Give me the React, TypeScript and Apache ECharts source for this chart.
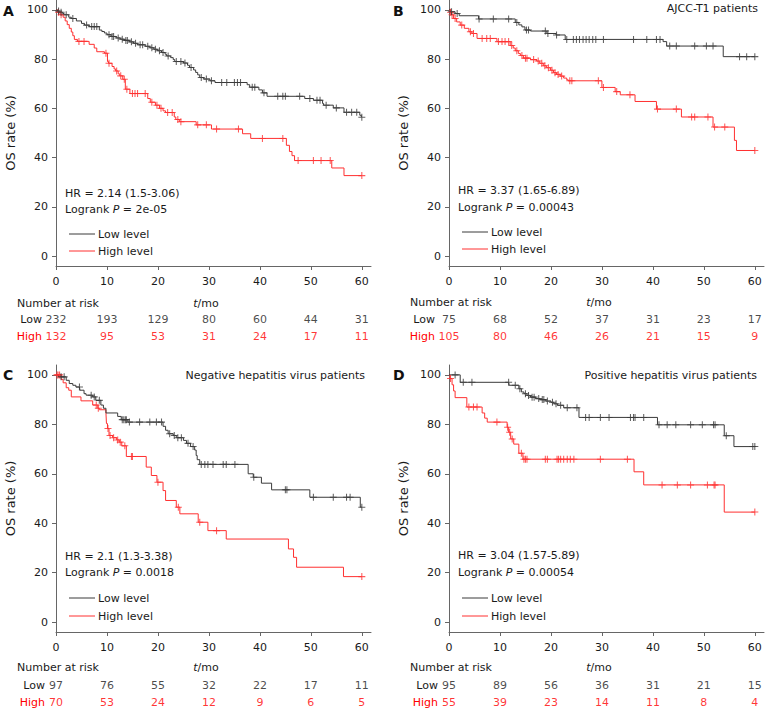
import React, { useEffect, useRef } from "react";
import * as echarts from "echarts";

// ---------- shared tick values ----------
const timeTicks = [0, 10, 20, 30, 40, 50, 60];
const survTicks = [0, 20, 40, 60, 80, 100];

// ---------- KM observations: [time (mo), survival (%), censored (1) / event (0)] ----------
const aLow = [
  [0, 100, 0], [0.3, 99.5, 0], [0.5, 99.5, 1], [0.8, 99, 0], [1, 99, 1], [1.3, 98.5, 0], [1.6, 98, 0], [2, 98, 1],
  [2.5, 97, 0], [3, 96.5, 0], [3.3, 96.5, 1], [4, 95.5, 0], [5, 94.5, 0], [5.6, 93.8, 0], [6, 93.8, 1], [6.5, 93.2, 0],
  [7, 93.2, 1], [7.5, 93.2, 1], [8, 93.2, 1], [8.5, 91.8, 0], [9, 91.2, 0], [9.5, 90.6, 0], [10, 89.9, 0], [10.4, 89.9, 1],
  [10.8, 89.2, 0], [11, 89.2, 1], [11.3, 89.2, 1], [11.8, 88.6, 0], [12.2, 88.6, 1], [12.6, 88.1, 0], [13, 88.1, 1],
  [13.4, 87.6, 0], [13.7, 87.6, 1], [14, 87.6, 1], [14.4, 87, 0], [14.8, 87, 1], [15.2, 86.4, 0], [15.6, 86.4, 1],
  [16, 85.8, 0], [16.5, 85.8, 1], [17, 85.8, 1], [17.5, 85.2, 0], [18, 85.2, 1], [18.4, 84.6, 0], [18.8, 84.6, 1],
  [19.2, 84, 0], [19.5, 84, 1], [19.9, 83.4, 0], [20.3, 83.4, 1], [20.7, 82.7, 0], [21, 82.7, 1], [21.4, 82, 0],
  [21.7, 81.3, 0], [22, 81.3, 1], [22.5, 80.6, 0], [23, 79.8, 0], [23.3, 79, 0], [23.6, 79, 1], [24.5, 79, 1],
  [25, 78.4, 0], [25.3, 78.4, 1], [25.8, 77.5, 0], [26.2, 76.6, 0], [26.5, 76.6, 1], [27, 75.6, 0], [27.4, 74.6, 0],
  [27.8, 73.6, 0], [28.2, 72.5, 0], [28.5, 72.5, 1], [29, 71.9, 0], [29.5, 71.9, 1], [30.2, 71.2, 0], [30.5, 71.2, 1],
  [31.2, 70.5, 0], [32.5, 70.5, 1], [33.5, 70.5, 1], [35, 70.5, 1], [35.6, 70.5, 1], [36.2, 70.5, 1], [37.5, 69.6, 0],
  [38, 68.6, 0], [38.5, 68.6, 1], [39, 68.6, 1], [39.8, 67.5, 0], [40.5, 66.3, 0], [40.8, 66.3, 1], [41.4, 64.9, 0],
  [43.5, 64.9, 1], [44.5, 64.9, 1], [45, 64.9, 1], [47.8, 64.9, 1], [48.8, 64, 0], [49.8, 64, 1], [50.5, 63.3, 0],
  [51.2, 63.3, 1], [51.8, 63.3, 1], [52.3, 62, 0], [52.5, 61.3, 0], [53, 61.3, 1], [54.4, 60.2, 0], [55, 60.2, 1],
  [56.5, 58.4, 0], [57, 58.4, 1], [58, 58.4, 1], [59, 58.4, 1], [59.6, 57.2, 0], [59.9, 56.4, 0], [60, 56.4, 1],
];
const aHigh = [
  [0, 100, 0], [0.3, 99, 0], [0.5, 99, 1], [0.8, 98, 0], [1, 98, 1], [1.4, 97, 0], [1.8, 95.5, 0], [2.2, 94, 0],
  [2.6, 92.5, 0], [3, 91, 0], [3.3, 89.5, 0], [3.6, 88, 0], [4.2, 87.2, 0], [4.5, 87.2, 1], [5.5, 87.2, 1],
  [6.5, 86, 0], [7.5, 84.5, 0], [8, 83, 0], [9.5, 82.4, 0], [9.8, 82.4, 1], [10.1, 79, 0], [10.3, 78.3, 0],
  [10.4, 78.3, 1], [11, 77, 0], [11.4, 76, 0], [11.7, 75.2, 0], [11.9, 75.2, 1], [12.2, 74, 0], [12.5, 73.2, 0],
  [12.7, 73.2, 1], [13.1, 71.8, 0], [13.4, 71.8, 1], [13.6, 67.8, 0], [13.9, 67.8, 1], [14.5, 66, 0], [15, 66, 1],
  [15.5, 66, 1], [16, 66, 1], [17.5, 66, 1], [18, 64, 0], [18.5, 62.5, 0], [18.8, 62.5, 1], [19.5, 61.3, 0],
  [19.8, 61.3, 1], [20.3, 60, 0], [20.6, 60, 1], [21, 59, 0], [21.5, 58.3, 0], [21.9, 58.3, 1], [22.8, 58.3, 1],
  [23.2, 56.5, 0], [23.5, 55.5, 0], [23.9, 55.5, 1], [24.2, 54.6, 0], [24.5, 54.6, 1], [27.5, 53.3, 0],
  [27.8, 53.3, 1], [29.5, 53.3, 1], [30.5, 51.6, 0], [31.5, 51.6, 1], [35.8, 51.6, 1], [36.6, 49.7, 0],
  [38.2, 47.8, 0], [40.5, 47.8, 1], [44.5, 47.8, 1], [45.2, 45, 0], [45.8, 42.5, 0], [46.3, 40.8, 0],
  [46.8, 38.8, 0], [47.5, 38.8, 1], [50.5, 38.8, 1], [52, 38.8, 1], [53.8, 38.8, 1], [54.1, 35.8, 0],
  [56.5, 32.7, 0], [60, 32.7, 1],
];
const bLow = [
  [0, 100, 0], [0.3, 99.2, 0], [0.5, 99.2, 1], [1.2, 98.5, 0], [1.6, 98.5, 1], [2, 97.6, 0], [5.8, 96.3, 0],
  [5.9, 96.3, 1], [8.7, 96.3, 1], [11.7, 96.3, 1], [13, 94.9, 0], [13.3, 94.9, 1], [13.7, 93.9, 0], [14.3, 93.1, 0],
  [14.9, 91.8, 0], [15.2, 91.8, 1], [15.6, 91.8, 1], [16, 91.4, 0], [18.9, 91.4, 1], [19.2, 90.4, 0], [19.4, 90.4, 1],
  [21, 89.8, 0], [21.1, 89.8, 1], [22.8, 88, 0], [23.1, 88, 1], [24.4, 88, 1], [25, 88, 1], [25.6, 88, 1],
  [26.3, 88, 1], [26.9, 88, 1], [27.5, 88, 1], [28.2, 88, 1], [28.8, 88, 1], [30.3, 88, 1], [36.2, 88, 1],
  [38.8, 88, 1], [40.7, 88, 1], [41.4, 88, 1], [42, 87.1, 0], [42.7, 85.3, 0], [43.3, 85.3, 1], [44.6, 85.3, 1],
  [48.2, 85.3, 1], [50.5, 85.3, 1], [51.8, 85.3, 1], [53.8, 81, 0], [57, 81, 1], [58.4, 81, 1], [60, 81, 1],
];
const bHigh = [
  [0, 100, 0], [0.2, 99, 0], [0.3, 99, 1], [0.5, 98, 0], [0.6, 98, 1], [0.9, 96.5, 0], [1.2, 96.5, 1],
  [1.5, 95.1, 0], [2.2, 93.8, 0], [2.5, 93.8, 1], [3, 92.5, 0], [3.9, 91.1, 0], [4.2, 91.1, 1], [4.5, 90.4, 0],
  [4.8, 90.4, 1], [5.5, 88.4, 0], [6.5, 88.4, 1], [7.4, 88.4, 1], [8.1, 88.4, 1], [9.4, 87.1, 0], [9.7, 87.1, 1],
  [10.4, 87.1, 1], [11, 87.1, 1], [11.7, 87.1, 1], [12, 85.5, 0], [12.3, 85.5, 1], [12.6, 84.5, 0], [13, 83.4, 0],
  [13.3, 83.4, 1], [13.6, 82.3, 0], [14, 81.5, 0], [14.3, 81.5, 1], [14.6, 80.4, 0], [15, 80.4, 1], [15.3, 80.4, 1],
  [16, 79.8, 0], [16.6, 79.8, 1], [17.2, 79.2, 0], [17.5, 79.2, 1], [17.8, 78.3, 0], [18.2, 78.3, 1], [18.5, 77.3, 0],
  [18.8, 77.3, 1], [19.1, 76.5, 0], [19.5, 76.5, 1], [19.9, 75.5, 0], [20.2, 75.5, 1], [20.5, 74.5, 0],
  [20.8, 74.5, 1], [21.1, 73.8, 0], [21.4, 73.8, 1], [21.8, 73.1, 0], [22.1, 73.1, 1], [22.5, 72.3, 0],
  [23.1, 71.6, 0], [23.4, 71.2, 0], [23.7, 71.2, 1], [24.1, 71.2, 1], [29.3, 71.2, 1], [30, 68.5, 0],
  [30.3, 68.5, 1], [32.6, 66.8, 0], [32.9, 66.8, 1], [33.6, 65.5, 0], [35.5, 65.5, 1], [36.5, 62.8, 0],
  [40.7, 59.7, 0], [40.9, 59.7, 1], [44.6, 59.7, 1], [45.6, 56.5, 0], [47.6, 56.5, 1], [48.2, 56.5, 1],
  [50.8, 56.5, 1], [51.8, 52.4, 0], [52.1, 52.4, 1], [54.1, 52.4, 1], [56, 47, 0], [56.4, 42.9, 0], [60, 42.9, 1],
];
const cLow = [
  [0, 100, 0], [0.5, 99.2, 0], [1, 99.2, 1], [1.6, 99.2, 1], [2, 97.8, 0], [2.6, 96.5, 0], [3.3, 95.8, 0],
  [3.9, 95.1, 0], [4.6, 95.1, 1], [4.7, 93.8, 0], [5.5, 92.4, 0], [5.9, 91.8, 0], [6.9, 91.8, 1], [7.2, 91.1, 0],
  [7.5, 91.1, 1], [7.8, 89.7, 0], [8.5, 89.7, 1], [8.8, 87.8, 0], [9.3, 86.5, 0], [9.8, 84.6, 0], [12.1, 83.2, 0],
  [12.8, 81.9, 0], [13, 81.9, 1], [13.3, 81.9, 1], [13.6, 81.9, 1], [13.8, 81.9, 1], [14.1, 80.9, 0], [14.4, 80.9, 1],
  [16.4, 80.9, 1], [18.4, 80.9, 1], [19.7, 80.9, 1], [20.7, 80.9, 1], [21, 79.2, 0], [21.5, 77.6, 0], [22, 76.2, 0],
  [22.3, 76.2, 1], [23, 75.5, 0], [23.2, 75.5, 1], [23.6, 74.6, 0], [23.9, 74.6, 1], [24.6, 74.6, 1], [25, 73.5, 0],
  [25.6, 72.3, 0], [25.9, 72.3, 1], [26.4, 71, 0], [26.9, 71, 1], [27.2, 69.6, 0], [27.5, 67.4, 0], [27.7, 65.7, 0],
  [28.2, 63.8, 0], [28.5, 63.8, 1], [29.2, 63.8, 1], [29.8, 63.8, 1], [30.8, 63.8, 1], [32.8, 63.8, 1],
  [33.4, 63.8, 1], [35.1, 63.8, 1], [37.7, 60, 0], [38.7, 58.6, 0], [38.8, 58.6, 1], [40.3, 56.2, 0],
  [42.3, 53.5, 0], [45, 53.5, 1], [45.3, 53.5, 1], [49.8, 50.5, 0], [50.5, 50.5, 1], [54.4, 50.5, 1],
  [57, 50.5, 1], [57.7, 50.5, 1], [59.7, 46.5, 0], [60, 46.5, 1],
];
const cHigh = [
  [0, 100, 0], [0.2, 100, 1], [0.4, 100, 1], [0.7, 100, 1], [1, 98.2, 0], [1.4, 96.8, 0], [2, 94.8, 0],
  [2.5, 93.8, 0], [3, 91.1, 0], [4.9, 89.5, 0], [7.2, 87.8, 0], [7.9, 87.8, 1], [8.2, 86.5, 0], [8.3, 86.5, 1],
  [8.5, 85.9, 0], [9.8, 84.6, 0], [9.9, 80.3, 0], [10.1, 78.3, 0], [10.2, 78.3, 1], [10.4, 75.5, 0], [10.6, 75.5, 1],
  [11.1, 74.6, 0], [11.3, 74.6, 1], [11.9, 73.7, 0], [12.1, 73.7, 1], [12.4, 72.8, 0], [12.6, 72.8, 1],
  [12.9, 71.3, 0], [13.5, 71.3, 1], [13.8, 67, 0], [14.8, 67, 1], [15, 67, 1], [17.7, 62.7, 0], [18.7, 59.3, 0],
  [19.8, 56.6, 0], [20, 56.6, 1], [21, 53.2, 0], [21.5, 49.2, 0], [23.6, 46.5, 0], [24, 46.5, 1], [24.3, 43.8, 0],
  [27.9, 40.4, 0], [28.2, 40.4, 1], [29.8, 37, 0], [31.5, 37, 1], [33.4, 33.6, 0], [45.6, 29.6, 0],
  [46.6, 26.2, 0], [47.2, 22.2, 0], [56.4, 18.4, 0], [60, 18.4, 1],
];
const dLow = [
  [0, 100, 0], [1.2, 100, 1], [2.2, 97, 0], [2.8, 97, 1], [4.5, 97, 1], [11.7, 97, 1], [11.8, 95.8, 0],
  [13, 95.8, 1], [13.7, 94.4, 0], [13.9, 94.4, 1], [14.2, 93.1, 0], [14.7, 92.4, 0], [15, 92.4, 1], [15.3, 91.7, 0],
  [15.6, 91.7, 1], [16, 91, 0], [16.3, 91, 1], [16.7, 91, 1], [17, 90.4, 0], [17.6, 90.4, 1], [17.9, 90, 0],
  [18.3, 90, 1], [18.6, 90, 1], [19, 89.4, 0], [19.3, 89.4, 1], [20, 88.9, 0], [20.3, 88.9, 1], [20.6, 88.3, 0],
  [21, 88.3, 1], [21.3, 87.7, 0], [21.9, 87.7, 1], [22.5, 86.7, 0], [23.2, 86.7, 1], [25.1, 86.7, 1],
  [25.5, 82.8, 0], [26.8, 82.8, 1], [27.5, 82.8, 1], [29.7, 82.8, 1], [31.4, 82.8, 1], [35.6, 82.8, 1],
  [36.2, 82.8, 1], [36.5, 82.8, 1], [38.2, 82.8, 1], [40.9, 79.8, 0], [41.2, 79.8, 1], [42.8, 79.8, 1],
  [44.5, 79.8, 1], [47.4, 79.8, 1], [49.7, 79.8, 1], [51.9, 79.8, 1], [52.2, 79.8, 1], [54, 75.4, 0],
  [54.4, 75.4, 1], [55.9, 71, 0], [59.6, 71, 1], [60, 71, 1],
];
const dHigh = [
  [0, 100, 0], [0.2, 98.5, 0], [0.3, 98.5, 1], [0.6, 96, 0], [0.9, 93.5, 0], [1.2, 90.8, 0], [3.5, 87, 0],
  [3.9, 87, 1], [4.8, 87, 1], [5.5, 87, 1], [6.5, 84.6, 0], [7, 82.5, 0], [7.5, 80.9, 0], [9.4, 80.9, 1],
  [11.4, 78.8, 0], [11.5, 78.8, 1], [11.7, 76.8, 0], [11.9, 76.8, 1], [12.1, 74.1, 0], [12.4, 74.1, 1],
  [12.7, 72, 0], [13.7, 68.3, 0], [14.2, 68.3, 1], [14.5, 65.9, 0], [14.7, 65.9, 1], [15, 65.9, 1],
  [15.3, 65.9, 1], [18.9, 65.9, 1], [19.3, 65.9, 1], [21.2, 65.9, 1], [21.5, 65.9, 1], [21.9, 65.9, 1],
  [22.5, 65.9, 1], [23.2, 65.9, 1], [23.8, 65.9, 1], [24.5, 65.9, 1], [29.7, 65.9, 1], [35, 65.9, 1],
  [36.3, 60.8, 0], [38.2, 55.5, 0], [41.8, 55.5, 1], [44.8, 55.5, 1], [47.4, 55.5, 1], [50.7, 55.5, 1],
  [52, 55.5, 1], [52.2, 55.5, 1], [54, 44.5, 0], [60, 44.5, 1],
];

// ---------- numbers at risk ----------
const aRiskLow = [232, 193, 129, 80, 60, 44, 31];
const aRiskHigh = [132, 95, 53, 31, 24, 17, 11];
const bRiskLow = [75, 68, 52, 37, 31, 23, 17];
const bRiskHigh = [105, 80, 46, 26, 21, 15, 9];
const cRiskLow = [97, 76, 55, 32, 22, 17, 11];
const cRiskHigh = [70, 53, 24, 12, 9, 6, 5];
const dRiskLow = [95, 89, 56, 36, 31, 21, 15];
const dRiskHigh = [55, 39, 23, 14, 11, 8, 4];

// ---------- texts ----------
const letters = ["A", "B", "C", "D"];
const titles = ["", "AJCC-T1 patients", "Negative hepatitis virus patients", "Positive hepatitis virus patients"];
const hrTexts = ["HR = 2.14 (1.5-3.06)", "HR = 3.37 (1.65-6.89)", "HR = 2.1 (1.3-3.38)", "HR = 3.04 (1.57-5.89)"];
const pTexts = ["2e-05", "0.00043", "0.0018", "0.00054"];
const groupNames = ["Low", "High"];
const legendNames = ["Low level", "High level"];

const panels = [
  { low: aLow, high: aHigh, riskLow: aRiskLow, riskHigh: aRiskHigh },
  { low: bLow, high: bHigh, riskLow: bRiskLow, riskHigh: bRiskHigh },
  { low: cLow, high: cHigh, riskLow: cRiskLow, riskHigh: cRiskHigh },
  { low: dLow, high: dHigh, riskLow: dRiskLow, riskHigh: dRiskHigh },
];

// ---------- layout (pixels) ----------
const layouts = [
  { left: 56, top: 0, height: 266, riskTop: 311, rowMargin: 14, letterX: 3, letterY: 11, titleX: 0, titleY: 0, hrY: 193, lrY: 209, legY: [234, 251], nrX: 17, nrY: 303 },
  { left: 449, top: 0, height: 266, riskTop: 310.5, rowMargin: 14, letterX: 393, letterY: 11, titleX: 758, titleY: 8, hrY: 190, lrY: 207, legY: [232, 249], nrX: 410, nrY: 302 },
  { left: 56, top: 365, height: 267, riskTop: 676.5, rowMargin: 11, letterX: 3, letterY: 375, titleX: 365, titleY: 375, hrY: 556, lrY: 572, legY: [598, 616], nrX: 17, nrY: 667 },
  { left: 449, top: 365, height: 267, riskTop: 676.5, rowMargin: 11, letterX: 393, letterY: 375, titleX: 757, titleY: 375, hrY: 555, lrY: 572, legY: [598, 616], nrX: 410, nrY: 667 },
];

const FONT = '"DejaVu Sans", Verdana, sans-serif';
const DARK = "#1a1a1a";
const LOW_C = "#3a3a3a";
const HIGH_C = "#ff3030";
const RED_TXT = "#ff0000";
const AXIS_C = "#666666";
const PLUS = "path://M4.25,0 H5.75 V4.25 H10 V5.75 H5.75 V10 H4.25 V5.75 H0 V4.25 H4.25 Z";
const X_MAX = 61.8;
const GRID_W = 315;

function txt(x: number, y: number, text: string, extra: any = {}) {
  return {
    type: "text",
    x,
    y,
    silent: true,
    style: {
      text,
      fontFamily: FONT,
      fontSize: 11,
      fill: DARK,
      align: "left",
      verticalAlign: "middle",
      ...extra,
    },
  };
}

export default function App() {
  const ref = useRef<HTMLDivElement>(null);

  useEffect(() => {
    if (!ref.current) return;
    const chart = echarts.init(ref.current, null, { renderer: "svg" });

    const grid: any[] = [];
    const xAxis: any[] = [];
    const yAxis: any[] = [];
    const series: any[] = [];
    const graphic: any[] = [];

    panels.forEach((p, i) => {
      const L = layouts[i];
      const mi = 2 * i;
      const ri = 2 * i + 1;
      grid.push({ left: L.left, top: L.top, width: GRID_W, height: L.height, outerBoundsMode: "none", containLabel: false });
      grid.push({ left: L.left, top: L.riskTop, width: GRID_W, height: 34, outerBoundsMode: "none", containLabel: false });

      xAxis.push({
        type: "value",
        gridIndex: mi,
        min: 0,
        max: X_MAX,
        axisLine: { show: true, onZero: false, lineStyle: { color: AXIS_C, width: 1 } },
        axisTick: { show: true, customValues: timeTicks, length: 4, lineStyle: { color: AXIS_C } },
        axisLabel: { show: true, customValues: timeTicks, color: DARK, fontSize: 11, fontFamily: FONT, margin: 10 },
        splitLine: { show: false },
      });
      xAxis.push({ type: "value", gridIndex: ri, min: 0, max: X_MAX, show: false });

      yAxis.push({
        type: "value",
        gridIndex: mi,
        min: -4,
        max: 104,
        name: "OS rate (%)",
        nameLocation: "middle",
        nameRotate: 90,
        nameGap: 39,
        nameTextStyle: { color: DARK, fontSize: 13, fontFamily: FONT },
        axisLine: { show: true, onZero: false, lineStyle: { color: AXIS_C, width: 1 } },
        axisTick: { show: true, customValues: survTicks, length: 4, lineStyle: { color: AXIS_C } },
        axisLabel: { show: true, customValues: survTicks, color: DARK, fontSize: 11, fontFamily: FONT, margin: 8 },
        splitLine: { show: false },
      });
      yAxis.push({
        type: "category",
        gridIndex: ri,
        data: groupNames,
        inverse: true,
        axisLine: { show: false },
        axisTick: { show: false },
        splitLine: { show: false },
        axisLabel: {
          margin: L.rowMargin,
          fontSize: 11,
          fontFamily: FONT,
          color: (v: string) => (v === "High" ? RED_TXT : DARK),
        },
      });

      const curves = [
        { pts: p.high, color: HIGH_C },
        { pts: p.low, color: LOW_C },
      ];
      curves.forEach((c) => {
        series.push({
          type: "line",
          xAxisIndex: mi,
          yAxisIndex: mi,
          data: c.pts.map((d) => [d[0], d[1]]),
          step: "end",
          showSymbol: false,
          symbol: "none",
          lineStyle: { color: c.color, width: 1 },
          silent: true,
          z: 2,
        });
        series.push({
          type: "scatter",
          xAxisIndex: mi,
          yAxisIndex: mi,
          data: c.pts.filter((d) => d[2] === 1).map((d) => [d[0], d[1]]),
          symbol: PLUS,
          symbolSize: 7,
          itemStyle: { color: c.color },
          silent: true,
          z: 3,
        });
      });

      const rows = [
        { name: "Low", vals: p.riskLow, color: DARK },
        { name: "High", vals: p.riskHigh, color: RED_TXT },
      ];
      rows.forEach((r) => {
        series.push({
          type: "scatter",
          xAxisIndex: ri,
          yAxisIndex: ri,
          data: timeTicks.map((t, j) => [t, r.name, r.vals[j]]),
          symbolSize: 1,
          itemStyle: { color: "rgba(0,0,0,0)" },
          silent: true,
          label: {
            show: true,
            position: "inside",
            formatter: (q: any) => String(q.value[2]),
            color: r.color,
            fontSize: 11,
            fontFamily: FONT,
          },
        });
      });

      // graphics
      graphic.push(txt(L.letterX, L.letterY, letters[i], { fontSize: 14, fontWeight: "bold", fill: "#111" }));
      if (titles[i]) graphic.push(txt(L.titleX, L.titleY, titles[i], { align: "right" }));
      graphic.push(txt(L.left + 9, L.hrY, hrTexts[i]));
      graphic.push(
        txt(L.left + 9, L.lrY, `Logrank {i|P} = ${pTexts[i]}`, {
          rich: { i: { fontStyle: "italic", fontFamily: FONT, fontSize: 11, fill: DARK } },
        })
      );
      [LOW_C, HIGH_C].forEach((col, k) => {
        graphic.push({
          type: "line",
          silent: true,
          shape: { x1: L.left + 13, y1: L.legY[k], x2: L.left + 39, y2: L.legY[k] },
          style: { stroke: col, lineWidth: 1 },
        });
        graphic.push(txt(L.left + 42, L.legY[k], legendNames[k]));
      });
      graphic.push(txt(L.nrX, L.nrY, "Number at risk"));
      graphic.push(
        txt(L.left + 150, L.nrY, "{i|t}/mo", {
          align: "center",
          rich: { i: { fontStyle: "italic", fontFamily: FONT, fontSize: 11, fill: DARK } },
        })
      );
    });

    chart.setOption({
      animation: false,
      backgroundColor: "#ffffff",
      grid,
      xAxis,
      yAxis,
      series,
      graphic,
    });

    return () => chart.dispose();
  }, []);

  return (
    <div
      ref={ref}
      style={{ position: "absolute", left: 0, top: 0, width: 780, height: 712, background: "#fff" }}
    />
  );
}
